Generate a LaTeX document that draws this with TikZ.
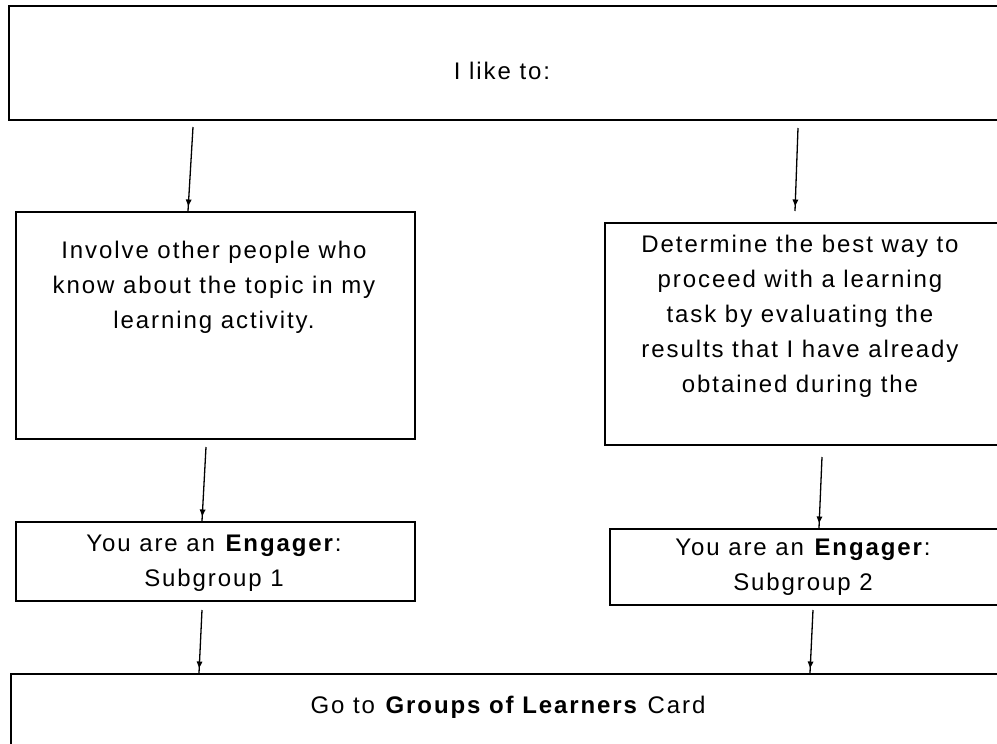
\documentclass[tikz,border=0pt]{standalone}
\usepackage{fontspec}
\setmainfont{Liberation Sans}[LetterSpace=8]
\usetikzlibrary{arrows.meta,calc,decorations.markings}
\begin{document}
\begin{tikzpicture}[x=1pt,y=-1pt,
  box/.style={draw,line width=2pt,rectangle,inner sep=0pt,anchor=north west},
  txt/.style={align=center,font=\fontsize{24}{35}\selectfont,inner sep=0pt},
  arr/.style={line width=1.3pt,decoration={markings,
    mark=at position -5pt with {\arrow{Triangle[width=5.5pt,length=6.5pt]}}},postaction={decorate}}]
\useasboundingbox (0,0) rectangle (997,744);
\fill[white] (0,0) rectangle (997,744);
\begin{scope}
\clip (0,0) rectangle (997,744);
\node[box,minimum width=1000pt,minimum height=114pt] (top) at (8,5) {};
\node[box,minimum width=399pt,minimum height=227pt] (l1) at (15,211) {};
\node[box,minimum width=400pt,minimum height=222pt] (r1) at (604,222) {};
\node[box,minimum width=399pt,minimum height=79pt] (l2) at (15,521) {};
\node[box,minimum width=400pt,minimum height=76pt] (r2) at (609,528) {};
\node[box,minimum width=1000pt,minimum height=100pt] (bot) at (10,673) {};
\end{scope}

\node[txt] (ttop) at (502,71) {I like to:};
\node[txt] (tl1) at (214,287) {Involve other people who\\know about the topic in my\\learning activity.};
\node[txt] (tr1) at (800,316) {Determine the best way to\\proceed with a learning\\task by evaluating the\\results that I have already\\obtained during the};
\node[txt] (tl2) at (214,563) {You are an \textbf{Engager}:\\Subgroup 1};
\node[txt] (tr2) at (803,567) {You are an \textbf{Engager}:\\Subgroup 2};
\node[txt] (tbot) at (508,707) {Go to \textbf{Groups of Learners} Card};

\coordinate (a1) at (193,127);
\coordinate (a2) at (798,128);
\coordinate (a3) at (206,447);
\coordinate (a4) at (822,457);
\coordinate (a5) at (202,610);
\coordinate (a6) at (813,610);
\draw[arr] (a1) -- ($(l1.north west)+(173,0)$);
\draw[arr] (a2) -- ($(r1.north west)+(191,-11)$);
\draw[arr] (a3) -- ($(l2.north west)+(187,0)$);
\draw[arr] (a4) -- ($(r2.north west)+(210,0)$);
\draw[arr] (a5) -- ($(bot.north west)+(189,0)$);
\draw[arr] (a6) -- ($(bot.north west)+(800,0)$);
\end{tikzpicture}
\end{document}
